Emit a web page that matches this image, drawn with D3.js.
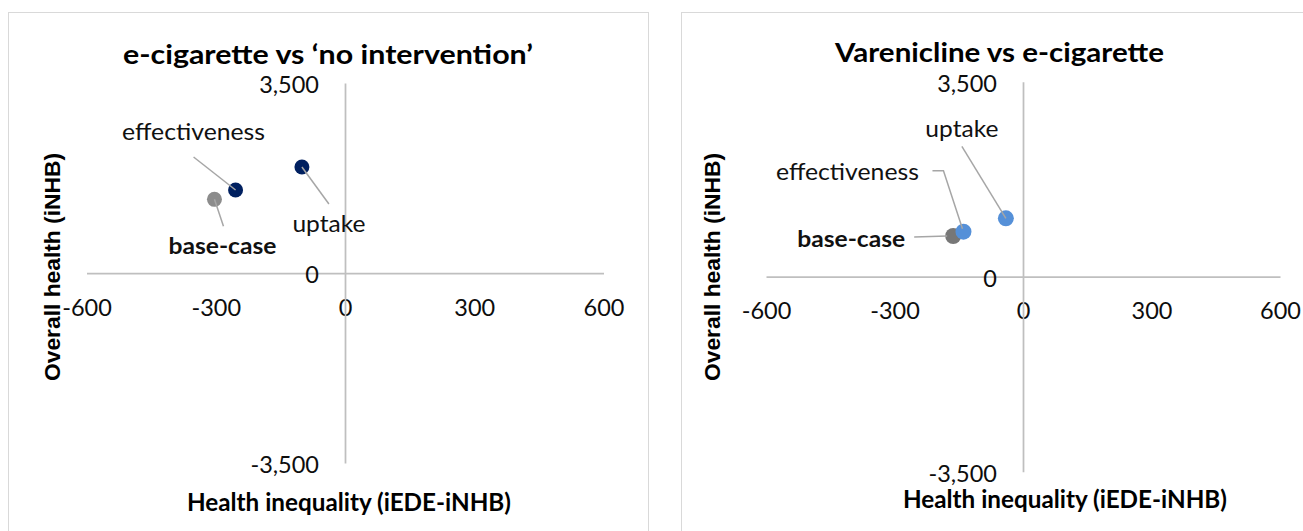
<!DOCTYPE html>
<html><head><meta charset="utf-8">
<script src="https://cdn.jsdelivr.net/npm/d3@7"></script>
<style>body{margin:0;background:#fff} svg{display:block}</style>
</head><body>
<svg id="chart" width="1303" height="531"></svg>
<script>
// ---- data ----
const pointLabels = ["base-case", "effectiveness", "uptake"];
const ecigInequality = [-303, -254, -100];
const ecigHealth = [1357, 1529, 1952];
const vareInequality = [-163, -139, -40];
const vareHealth = [731, 808, 1048];
const xTickValues = [-600, -300, 0, 300, 600];
const yTickValues = [-3500, 0, 3500];
const chartTitles = ["e-cigarette vs \u2018no intervention\u2019", "Varenicline vs e-cigarette"];
const xAxisTitle = "Health inequality (iEDE-iNHB)";
const yAxisTitle = "Overall health (iNHB)";

// ---- layout / style ----
const svg = d3.select("#chart");
const FONT = "Lato, 'Open Sans', sans-serif";
const AXIS_COL = "#bfbfbf";
const LEADER_COL = "#a6a6a6";
const loc = d3.formatLocale({decimal: ".", thousands: ",", grouping: [3], currency: ["", ""], minus: "-"});
const fmtX = loc.format("d");
const fmtY = loc.format(",");

const panels = [
  {
    frame: {x: 8.5, y: 12.5, w: 640, h: 540},
    xr: [86.5, 603.5], yr: [463, 83],
    xs: ecigInequality, ys: ecigHealth,
    colors: ["#8c8c8c", "#002060", "#002060"],
    title: chartTitles[0], titleX: 328, titleY: 64, titleLen: 410,
    xtX: 349, xtY: 511, ytX: 60, ytY: 267,
    r: 7.5,
    labels: [
      {dx: 8, dy: 55, bold: true, len: 108, leader: [[9, 27], [0, 0]]},
      {dx: -42, dy: -50, bold: false, len: 143, leader: [[-42, -33], [0, 0]]},
      {dx: 27, dy: 65, bold: false, len: 73, leader: [[27, 37], [0, 0]]}
    ]
  },
  {
    frame: {x: 681.5, y: 12.5, w: 640, h: 540},
    xr: [766, 1280], yr: [471.7, 81.7],
    xs: vareInequality, ys: vareHealth,
    colors: ["#777777", "#5590d8", "#5590d8"],
    title: chartTitles[1], titleX: 999.5, titleY: 62, titleLen: 329,
    xtX: 1065, xtY: 508, ytX: 720, ytY: 267,
    r: 8,
    labels: [
      {dx: -102, dy: 11, bold: true, len: 108, leader: [[-39, 1], [-6, 0]]},
      {dx: -116, dy: -52, bold: false, len: 143, leader: [[-31, -61], [-20, -61], [-1, -3]]},
      {dx: -44, dy: -81, bold: false, len: 73, leader: [[-44, -72], [0, 0]]}
    ]
  }
];

panels.forEach(p => {
  const g = svg.append("g");
  g.append("rect")
    .attr("x", p.frame.x).attr("y", p.frame.y)
    .attr("width", p.frame.w).attr("height", p.frame.h)
    .attr("fill", "#fff").attr("stroke", "#d9d9d9").attr("stroke-width", 1);

  const x = d3.scaleLinear().domain([-600, 600]).range(p.xr);
  const y = d3.scaleLinear().domain([-3500, 3500]).range(p.yr);

  // x axis crossing at y=0
  const xa = g.append("g")
    .attr("transform", `translate(0,${y(0)})`)
    .call(d3.axisBottom(x).tickValues(xTickValues).tickSize(0).tickPadding(26).tickFormat(fmtX));
  // y axis crossing at x=0
  const ya = g.append("g")
    .attr("transform", `translate(${x(0)},0)`)
    .call(d3.axisLeft(y).tickValues(yTickValues).tickSize(0).tickPadding(26).tickFormat(fmtY));

  [xa, ya].forEach(a => {
    a.select(".domain").attr("stroke", AXIS_COL).attr("stroke-width", 1.75);
    a.selectAll("text").attr("font-family", FONT).attr("font-size", 23.5).attr("fill", "#0d0d0d");
  });
  ya.selectAll("text").attr("dy", "0.4em");

  // title
  g.append("text")
    .attr("x", p.titleX).attr("y", p.titleY)
    .attr("text-anchor", "middle")
    .attr("font-family", FONT).attr("font-weight", "bold").attr("font-size", 27)
    .attr("textLength", p.titleLen).attr("lengthAdjust", "spacingAndGlyphs")
    .attr("fill", "#000")
    .text(p.title);

  // axis titles
  g.append("text")
    .attr("x", p.xtX).attr("y", p.xtY)
    .attr("text-anchor", "middle")
    .attr("font-family", FONT).attr("font-weight", "bold").attr("font-size", 24)
    .attr("textLength", 324).attr("lengthAdjust", "spacingAndGlyphs")
    .attr("fill", "#000")
    .text(xAxisTitle);
  g.append("text")
    .attr("transform", `translate(${p.ytX},${p.ytY}) rotate(-90)`)
    .attr("text-anchor", "middle")
    .attr("font-family", "'Liberation Sans', Arial, sans-serif").attr("font-weight", "bold").attr("font-size", 22)
    .attr("textLength", 228).attr("lengthAdjust", "spacingAndGlyphs")
    .attr("fill", "#000")
    .text(yAxisTitle);

  // points
  const pts = pointLabels.map((lab, i) => ({lab, px: x(p.xs[i]), py: y(p.ys[i]), color: p.colors[i], L: p.labels[i]}));
  g.selectAll("circle.pt").data(pts).enter().append("circle")
    .attr("class", "pt")
    .attr("cx", d => d.px).attr("cy", d => d.py).attr("r", p.r)
    .attr("fill", d => d.color);

  // leader lines
  const line = d3.line();
  g.selectAll("path.leader").data(pts).enter().append("path")
    .attr("class", "leader")
    .attr("d", d => line(d.L.leader.map(o => [d.px + o[0], d.py + o[1]])))
    .attr("fill", "none").attr("stroke", LEADER_COL).attr("stroke-width", 1.5);

  // labels
  g.selectAll("text.lbl").data(pts).enter().append("text")
    .attr("class", "lbl")
    .attr("x", d => d.px + d.L.dx).attr("y", d => d.py + d.L.dy)
    .attr("text-anchor", "middle")
    .attr("font-family", FONT).attr("font-size", 23)
    .attr("font-weight", d => d.L.bold ? "bold" : "normal")
    .attr("textLength", d => d.L.len).attr("lengthAdjust", "spacingAndGlyphs")
    .attr("fill", "#111")
    .text(d => d.lab);
});
</script>
</body></html>
